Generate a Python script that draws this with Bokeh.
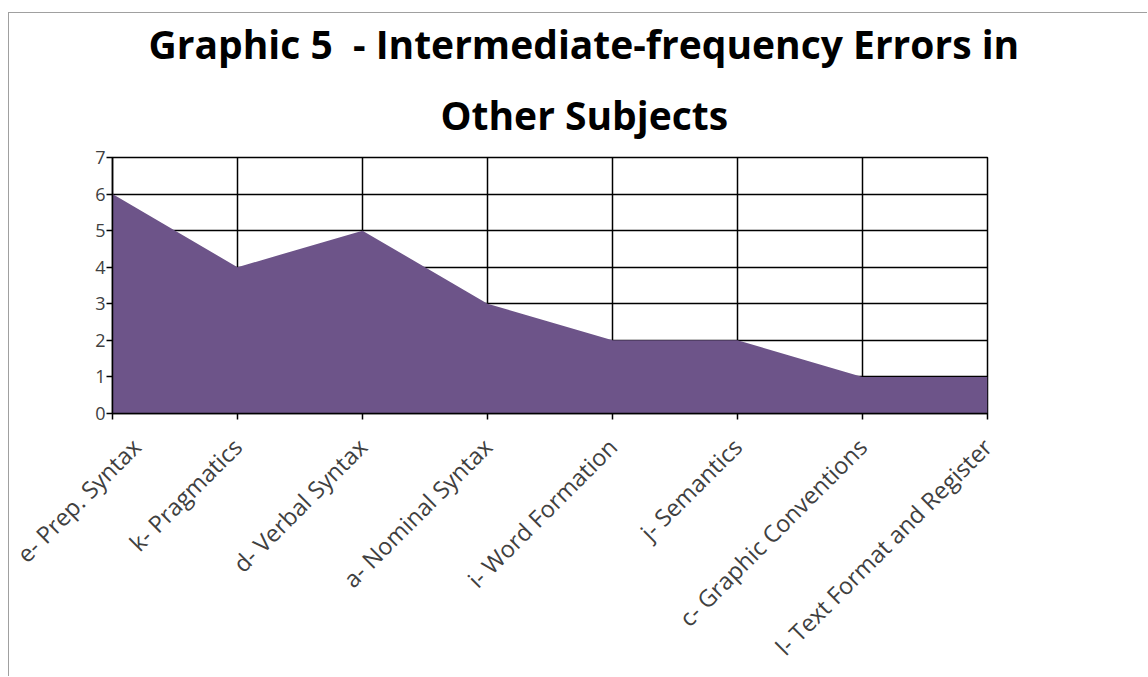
import math
from bokeh.plotting import figure
from bokeh.models import FixedTicker, Title, Range1d
from bokeh.embed import file_html
from bokeh.resources import INLINE

categories = ["e- Prep. Syntax", "k- Pragmatics", "d- Verbal Syntax", "a- Nominal Syntax",
              "i- Word Formation", "j- Semantics", "c- Graphic Conventions",
              "l- Text Format and Register"]
values = [6, 4, 5, 3, 2, 2, 1, 1]
y_ticks = [0, 1, 2, 3, 4, 5, 6, 7]
title_lines = ["Graphic 5\u00a0\u00a0- Intermediate-frequency Errors in", "Other Subjects"]

xs = list(range(len(categories)))

p = figure(width=1139, height=664, output_backend="svg", toolbar_location=None,
           x_range=Range1d(0, len(categories) - 1), y_range=Range1d(0, 7),
           min_border_left=103, min_border_right=161, min_border_top=144,
           min_border_bottom=264)
p.title = None
# added bottom-up: the first one added sits closest to the frame
for line, off, stand in [(title_lines[1], 328, 33), (title_lines[0], 36, 0)]:
    t = Title(text=line, align="left", offset=off, text_font="Open Sans",
              text_font_size="39px", text_font_style="bold", text_color="#000000",
              standoff=stand)
    p.add_layout(t, "above")

p.varea(x=xs, y1=[0] * len(values), y2=values, fill_color="#6D5489")

p.xaxis.ticker = FixedTicker(ticks=xs)
p.xaxis.major_label_overrides = {i: c for i, c in enumerate(categories)}
p.xaxis.major_label_orientation = math.pi / 4
p.yaxis.ticker = FixedTicker(ticks=y_ticks)

for ax in (p.xaxis[0], p.yaxis[0]):
    ax.axis_line_color = "#000000"
    ax.axis_line_width = 1.5
    ax.major_tick_line_color = "#000000"
    ax.major_tick_line_width = 1.5
    ax.major_tick_out = 6
    ax.major_tick_in = 0
    ax.minor_tick_line_color = None
    ax.major_label_text_font = "Open Sans"
    ax.major_label_text_color = "#404040"
p.xaxis.major_label_text_font_size = "23.5px"
p.yaxis.major_label_text_font_size = "18px"
p.xaxis.major_label_standoff = 23
p.yaxis.major_label_standoff = 1

p.xgrid.grid_line_color = "#000000"
p.ygrid.grid_line_color = "#000000"
p.xgrid.grid_line_width = 1.5
p.ygrid.grid_line_width = 1.5
p.outline_line_color = "#000000"
p.outline_line_width = 1.5
p.background_fill_color = "white"
p.border_fill_color = "white"
p.styles = {"border-top": "1px solid #a0a0a0", "border-left": "1px solid #a0a0a0",
            "margin-top": "12px", "margin-left": "8px"}

open("out.html", "w").write(file_html(p, INLINE))
